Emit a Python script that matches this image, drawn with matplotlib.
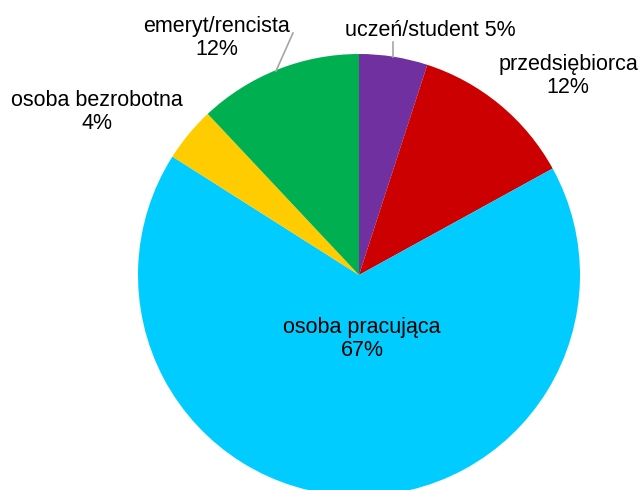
import matplotlib
matplotlib.use("Agg")
import matplotlib.pyplot as plt

categories = ["uczeń/student", "przedsiębiorca", "osoba pracująca", "osoba bezrobotna", "emeryt/rencista"]
values = [5, 12, 67, 4, 12]
colors = ["#7030A0", "#CC0000", "#00CCFF", "#FFCC00", "#00B050"]

W, H = 638, 490
fig = plt.figure(figsize=(W / 100, H / 100), dpi=100)
ax = fig.add_axes([0, 0, 1, 1])

cx, cy, r = 359, H - 275, 221
ax.pie(values, colors=colors, startangle=90, counterclock=False,
       center=(cx, cy), radius=r, frame=True,
       wedgeprops=dict(linewidth=0))
ax.set_xlim(0, W)
ax.set_ylim(0, H)
ax.set_aspect("equal")
ax.axis("off")

font = dict(family=["Liberation Sans", "DejaVu Sans"], fontsize=15.5, color="#000000",
            ha="center", va="center", linespacing=1.1)

labels = [
    (f"{categories[0]} {values[0]}%", 430, 31),
    (f"{categories[1]}\n{values[1]}%", 568, 76),
    (f"{categories[2]}\n{values[2]}%", 362, 339),
    (f"{categories[3]}\n{values[3]}%", 97, 112),
    (f"{categories[4]}\n{values[4]}%", 217, 38),
]
for txt, x, y in labels:
    ax.text(x, H - y, txt, **font)

# leader lines
ax.plot([293, 276], [H - 33, H - 71], color="#A6A6A6", lw=1.2)
ax.plot([393, 393], [H - 42, H - 57], color="#A6A6A6", lw=1.2)

fig.savefig("out.png", dpi=100)
